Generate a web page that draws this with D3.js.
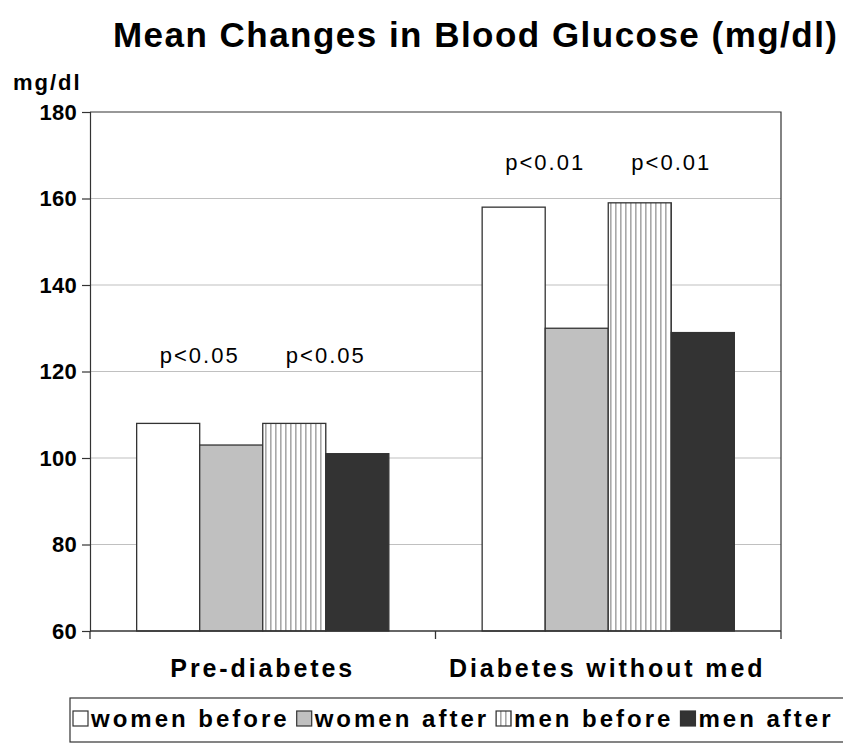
<!DOCTYPE html>
<html>
<head>
<meta charset="utf-8">
<script src="https://cdn.jsdelivr.net/npm/d3@7"></script>
<style>
  html, body { margin: 0; padding: 0; background: #fff; }
  svg { display: block; font-family: "Liberation Sans", Arial, sans-serif; }
</style>
</head>
<body>
<svg id="chart" width="843" height="756"></svg>
<script>
// ---- data ----
const categories = ["Pre-diabetes", "Diabetes without med"];
const seriesNames = ["women before", "women after", "men before", "men after"];
const womenBefore = [108, 158];
const womenAfter  = [103, 130];
const menBefore   = [108, 159];
const menAfter    = [101, 129];
const yTicks = [60, 80, 100, 120, 140, 160, 180];
const annotations = [
  { category: "Pre-diabetes", pair: ["women before", "women after"], text: "p<0.05", y: 122 },
  { category: "Pre-diabetes", pair: ["men before", "men after"], text: "p<0.05", y: 122 },
  { category: "Diabetes without med", pair: ["women before", "women after"], text: "p<0.01", y: 166.5 },
  { category: "Diabetes without med", pair: ["men before", "men after"], text: "p<0.01", y: 166.5 }
];
const seriesValues = [womenBefore, womenAfter, menBefore, menAfter];

// ---- layout ----
const svg = d3.select("#chart");
const L = 90, R = 781, T = 112, B = 631;

const defs = svg.append("defs");
const pat = defs.append("pattern").attr("id", "vstripe")
  .attr("patternUnits", "userSpaceOnUse").attr("width", 5).attr("height", 10);
pat.append("rect").attr("width", 5).attr("height", 10).attr("fill", "#fff");
pat.append("rect").attr("x", 0).attr("width", 1.6).attr("height", 10).attr("fill", "#a8a8a8");

const fills = ["#ffffff", "#c0c0c0", "url(#vstripe)", "#333333"];

const y = d3.scaleLinear().domain([60, 180]).range([B, T]);
const x0 = d3.scaleBand().domain(categories).range([L, R]).paddingInner(0).paddingOuter(0);
const x1 = d3.scaleBand().domain(seriesNames).range([0, x0.bandwidth()]).paddingInner(0).paddingOuter(0.74);

// title
svg.append("text").attr("x", 113).attr("y", 47)
  .attr("font-size", 35).attr("font-weight", "bold")
  .attr("textLength", 724).attr("lengthAdjust", "spacing")
  .text("Mean Changes in Blood Glucose (mg/dl)");

// y unit label
svg.append("text").attr("x", 13).attr("y", 90)
  .attr("font-size", 22).attr("font-weight", "bold")
  .attr("letter-spacing", 2)
  .text("mg/dl");

// gridlines
svg.append("g").selectAll("line").data(yTicks.filter(t => t > 60 && t < 180)).join("line")
  .attr("x1", L).attr("x2", R).attr("y1", d => y(d)).attr("y2", d => y(d))
  .attr("stroke", "#c0c0c0").attr("stroke-width", 1.2);

// plot border top/right
svg.append("path")
  .attr("d", `M${L},${y(180)}H${R}V${B}`)
  .attr("fill", "none").attr("stroke", "#333").attr("stroke-width", 1.2);

// bars
const g = svg.append("g");
seriesNames.forEach((s, si) => {
  g.append("g").selectAll("rect").data(categories.map((c, ci) => ({ c, v: seriesValues[si][ci] })))
    .join("rect")
    .attr("x", d => x0(d.c) + x1(s))
    .attr("y", d => y(d.v))
    .attr("width", x1.bandwidth())
    .attr("height", d => y(60) - y(d.v))
    .attr("fill", fills[si])
    .attr("stroke", "#333").attr("stroke-width", 1.3);
});

// y axis
const yAxis = d3.axisLeft(y).tickValues(yTicks).tickSize(8).tickPadding(5).tickFormat(d3.format("d"));
const ya = svg.append("g").attr("transform", `translate(${L},0)`).call(yAxis);
ya.select(".domain").attr("stroke", "#333").attr("stroke-width", 1.2);
ya.selectAll(".tick line").attr("stroke", "#333").attr("stroke-width", 1.2);
ya.selectAll(".tick text").attr("font-size", 22).attr("font-weight", "bold")
  .attr("fill", "#000").attr("font-family", "Liberation Sans, Arial, sans-serif")
  .attr("letter-spacing", 0.3);

// x axis baseline + category ticks
svg.append("line").attr("x1", L).attr("x2", R).attr("y1", B).attr("y2", B)
  .attr("stroke", "#333").attr("stroke-width", 1.3);
const boundaries = categories.map(c => x0(c)).concat([x0(categories[categories.length - 1]) + x0.bandwidth()]);
svg.append("g").selectAll("line").data(boundaries).join("line")
  .attr("x1", d => d).attr("x2", d => d).attr("y1", B).attr("y2", B + 8)
  .attr("stroke", "#333").attr("stroke-width", 1.3);

// category labels
svg.append("g").selectAll("text").data(categories).join("text")
  .attr("x", d => x0(d) + x0.bandwidth() / 2 + (d === categories[1] ? -1 : 0))
  .attr("y", 677)
  .attr("text-anchor", "middle")
  .attr("font-size", 25).attr("font-weight", "bold")
  .attr("letter-spacing", 2.9)
  .text(d => d);

// annotations
svg.append("g").selectAll("text").data(annotations).join("text")
  .attr("x", d => x0(d.category) + x1(d.pair[1]))
  .attr("y", d => y(d.y))
  .attr("text-anchor", "middle")
  .attr("font-size", 22)
  .attr("letter-spacing", 2)
  .text(d => d.text);

// legend
const lg = svg.append("g");
lg.append("rect").attr("x", 70).attr("y", 698).attr("width", 790).attr("height", 44)
  .attr("fill", "#fff").attr("stroke", "#333").attr("stroke-width", 1.2);
let lx = 73;
seriesNames.forEach((s, i) => {
  lg.append("rect").attr("x", lx).attr("y", 711).attr("width", 15).attr("height", 15)
    .attr("fill", fills[i]).attr("stroke", "#333").attr("stroke-width", 1.2);
  const t = lg.append("text").attr("x", lx + 18).attr("y", 727)
    .attr("font-size", 24).attr("font-weight", "bold")
    .attr("letter-spacing", 3)
    .text(s);
  lx = lx + 18 + t.node().getComputedTextLength() + 7;
});
</script>
</body>
</html>
